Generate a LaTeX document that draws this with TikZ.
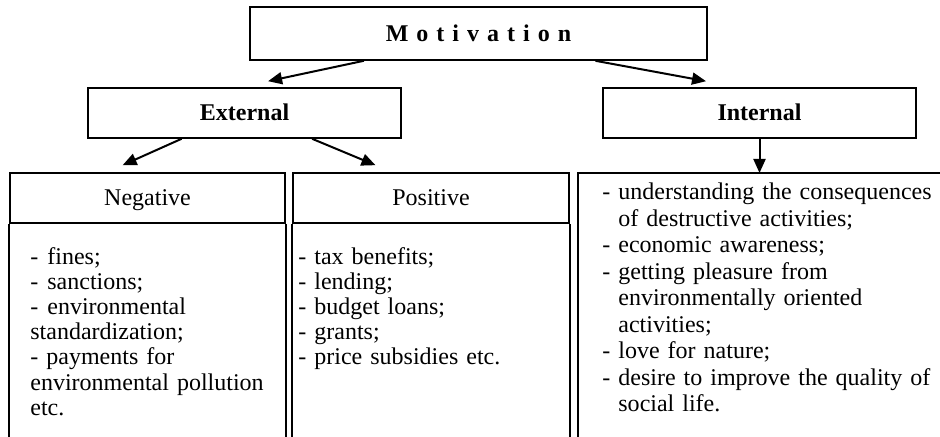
\documentclass[tikz,border=0pt]{standalone}
\usepackage{fontspec}
\setmainfont{Liberation Serif}
\usetikzlibrary{arrows.meta,calc}
\tikzset{box/.style={draw,line width=.8pt,inner sep=0pt,text height=10pt,text depth=2pt,font=\fontsize{12}{14}\selectfont},
 arr/.style={line width=1pt,-{Triangle[length=7pt,width=6pt]}},
 list/.style={inner sep=0pt,anchor=base west,align=left,font=\fontsize{12}{12.5}\selectfont},
 frame/.style={line width=.8pt},
 }

\begin{document}
\begin{tikzpicture}[x=0.5pt,y=-0.5pt]
        \useasboundingbox (0,0) rectangle (940,437);
        \coordinate (bot) at (0,437);
        \coordinate (intbox) at (578,173);

        \node[box,minimum width=228.5pt,minimum height=26.5pt] (motiv) at (478.5,33.5) {\bfseries\spaceskip=4pt M o t i v a t i o n};
        \node[box,minimum width=156.5pt,minimum height=25pt] (ext) at (244.5,113) {\bfseries External};
        \node[box,minimum width=156.5pt,minimum height=25pt] (inter) at (759.5,113) {\bfseries Internal};
        \node[box,minimum width=137.5pt,minimum height=25pt] (neghead) at (147.5,198) {Negative};
        \node[box,minimum width=138pt,minimum height=25pt] (poshead) at (431,198) {Positive};

        % open frames below the headers
        \draw[frame] (neghead.south west) -- (neghead.south west |- bot);
        \draw[frame] (neghead.south east) -- (neghead.south east |- bot);
        \draw[frame] (poshead.south west) -- (poshead.south west |- bot);
        \draw[frame] (poshead.south east) -- (poshead.south east |- bot);
        \draw[frame] (940,173) -- (intbox) -- (intbox |- bot);

        \draw[arr] ($(motiv.south west)!.25!(motiv.south east)$) -- ($(ext.north west)!.575!(ext.north east)+(0,-6)$);
        \draw[arr] ($(motiv.south west)!.755!(motiv.south east)$) -- ($(inter.north west)!.33!(inter.north east)+(0,-6)$);
        \draw[arr] ($(ext.south west)!.3!(ext.south east)$) -- ($(neghead.north west)!.41!(neghead.north east)+(0,-7)$);
        \draw[arr] ($(ext.south west)!.715!(ext.south east)$) -- ($(poshead.north west)!.3!(poshead.north east)+(0,-7)$);
        \draw[arr] (inter.south) -- (inter.south |- intbox);

        \node[list,text width=130pt] (neglist) at (30,265) {\makebox[8.5pt][l]{-}fines;\\
            \makebox[8.5pt][l]{-}sanctions;\\
            \makebox[8.5pt][l]{-}environmental\\
            standardization;\\
            - payments for\\
            environmental pollution\\
            etc.};
        \node[list,text width=130pt] (poslist) at (298,265) {- tax benefits;\\
            - lending;\\
            - budget loans;\\
            - grants;\\
            - price subsidies etc.};
        \node[list,text width=175pt,font=\fontsize{12}{13.25}\selectfont] (intlist) at (602,200) {\makebox[8pt][l]{-}understanding the consequences\\
            \hspace*{8pt}of destructive activities;\\
            \makebox[8pt][l]{-}economic awareness;\\
            \makebox[8pt][l]{-}getting pleasure from\\
            \hspace*{8pt}environmentally oriented\\
            \hspace*{8pt}activities;\\
            \makebox[8pt][l]{-}love for nature;\\
            \makebox[8pt][l]{-}desire to improve the quality of\\
            \hspace*{8pt}social life.};
\end{tikzpicture}
\end{document}
